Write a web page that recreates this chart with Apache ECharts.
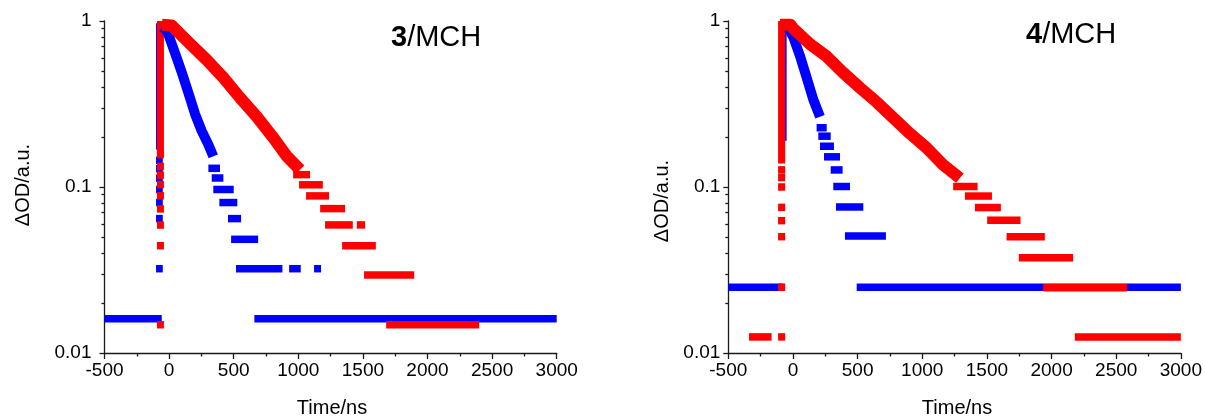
<!DOCTYPE html>
<html>
<head>
<meta charset="utf-8">
<script src="https://cdn.jsdelivr.net/npm/echarts@6/dist/echarts.min.js"></script>
<style>
  html, body { margin: 0; padding: 0; background: #ffffff; }
  #chart { width: 1205px; height: 418px; }
</style>
</head>
<body>
<div id="chart"></div>
<script>
// Transient absorption decays (log ΔOD vs time) for 3/MCH and 4/MCH.
// Digitised signal: low values sit on discrete levels, stored as runs
// [tStart, tEnd, value]; the dense early decay is stored as [t, value] points.

const X_TICK_MIN = -500, X_TICK_MAX = 3000, X_TICK_STEP = 500;
const Y_TICK_VALUES = [0.01, 0.1, 1];
const Y_TICK_LABELS = ['0.01', '0.1', '1'];
const Y_MINOR_VALUES = [0.02, 0.03, 0.04, 0.05, 0.06, 0.07, 0.08, 0.09,
                        0.2, 0.3, 0.4, 0.5, 0.6, 0.7, 0.8, 0.9];
const PANEL_TITLES = ['3', '4'];

// ---- 3/MCH, blue trace ----
const BLUE3_RISE = [[-101, -49, 0.19, 0.92]];
const BLUE3_DECAY = [[-60, 0.92], [-30, 0.9], [-6, 0.83], [46, 0.64], [98, 0.49],
                     [149, 0.37], [201, 0.275], [253, 0.217], [304, 0.18], [342, 0.153]];
const BLUE3_LEVELS = [
  [-101, -49, 0.177], [-101, -49, 0.145], [-101, -49, 0.129], [-101, -49, 0.113],
  [-101, -49, 0.0966], [-101, -49, 0.0806], [-101, -49, 0.0645], [-101, -49, 0.0322],
  [304, 394, 0.1296], [330, 420, 0.1133], [342, 500, 0.0966], [389, 528, 0.0806],
  [456, 557, 0.0645], [480, 689, 0.0484], [518, 877, 0.0322], [929, 1019, 0.0322],
  [1122, 1176, 0.0322], [-500, -57, 0.0161], [660, 3000, 0.0161]
];

// ---- 3/MCH, red trace ----
const RED3_RISE = [[-94, -40, 0.157, 0.95]];
const RED3_DECAY = [[-55, 0.95], [20, 0.94], [162, 0.73], [291, 0.583], [420, 0.456],
                    [549, 0.345], [679, 0.265], [807, 0.198], [911, 0.153], [1014, 0.127]];
const RED3_LEVELS = [
  [-94, -40, 0.162], [-94, -40, 0.133], [-94, -40, 0.118], [-94, -40, 0.1035],
  [-94, -40, 0.0885], [-94, -40, 0.0738], [-94, -40, 0.059], [-94, -40, 0.0443],
  [-94, -40, 0.0148],
  [960, 1091, 0.1187], [1006, 1190, 0.1031], [1060, 1238, 0.0884], [1169, 1362, 0.0741],
  [1207, 1422, 0.0591], [1453, 1517, 0.0591], [1339, 1600, 0.0443], [1509, 1897, 0.0295],
  [1680, 2400, 0.0148]
];

// ---- 4/MCH, blue trace ----
const BLUE4_RISE = [[-105, -49, 0.2, 0.95]];
const BLUE4_DECAY = [[-95, 0.95], [-48, 0.94], [3, 0.8], [54, 0.617], [106, 0.456],
                     [157, 0.337], [209, 0.265]];
const BLUE4_LEVELS = [
  [183, 261, 0.2275], [196, 292, 0.2024], [209, 317, 0.176], [240, 364, 0.152],
  [292, 384, 0.1267], [312, 441, 0.1007], [333, 544, 0.0758], [402, 719, 0.0506],
  [-500, -75, 0.0249], [493, 3000, 0.0249]
];

// ---- 4/MCH, red trace ----
const RED4_RISE = [[-115, -60, 0.146, 0.95]];
const RED4_DECAY = [[-100, 0.95], [-20, 0.95], [3, 0.9], [132, 0.726], [261, 0.612],
                    [389, 0.488], [518, 0.396], [647, 0.325], [776, 0.261], [905, 0.21],
                    [1034, 0.172], [1162, 0.136], [1291, 0.113]];
const RED4_LEVELS = [
  [-115, -60, 0.1268], [-115, -60, 0.114], [-115, -60, 0.1], [-115, -60, 0.0754],
  [-115, -60, 0.0627], [-115, -60, 0.0502], [-115, -60, 0.0249], [-115, -60, 0.0125],
  [-340, -165, 0.0125],
  [1239, 1428, 0.1007], [1330, 1539, 0.0882], [1407, 1608, 0.0752], [1502, 1760, 0.063],
  [1652, 1948, 0.0502], [1747, 2167, 0.0375], [1935, 2585, 0.0247], [2180, 3000, 0.0125]
];

const BLUE = '#0000ff';
const RED = '#ff0000';
const AXIS_COLOR = '#1a1a1a';
const FONT = '"Liberation Sans", Arial, sans-serif';
const MARK_H = 7.5;

const GRIDS = [
  { left: 104.5, top: 21, width: 452.2, height: 332 },
  { left: 728.3, top: 21, width: 452.7, height: 332 }
];
const Y_LABEL_MARGIN = [13, 8];

// Horizontal runs and vertical columns drawn as rectangles in data space.
function renderRun(params, api) {
  const a = api.coord([api.value(0), api.value(3)]);
  const b = api.coord([api.value(1), api.value(2)]);
  const half = MARK_H / 2;
  return {
    type: 'rect',
    shape: { x: a[0], y: a[1] - half, width: b[0] - a[0], height: (b[1] - a[1]) + 2 * half },
    style: { fill: api.visual('color') }
  };
}

function runSeries(rows, color, panel) {
  return {
    type: 'custom',
    xAxisIndex: panel,
    yAxisIndex: panel * 2,
    renderItem: renderRun,
    clip: true,
    itemStyle: { color: color },
    encode: { x: [0, 1], y: [2, 3] },
    data: rows.map(r => r.length === 3 ? [r[0], r[1], r[2], r[2]] : r.slice()),
    silent: true
  };
}

function bandSeries(points, color, width, panel) {
  return {
    type: 'line',
    xAxisIndex: panel,
    yAxisIndex: panel * 2,
    data: points,
    showSymbol: false,
    symbol: 'none',
    clip: true,
    lineStyle: { color: color, width: width, cap: 'butt', join: 'round' },
    silent: true
  };
}

function xAxisFor(panel) {
  return {
    gridIndex: panel,
    type: 'value',
    min: X_TICK_MIN,
    max: X_TICK_MAX,
    interval: X_TICK_STEP,
    axisLine: { show: true, onZero: false, lineStyle: { color: AXIS_COLOR, width: 1.3 } },
    axisTick: { show: true, inside: false, length: 6, lineStyle: { color: AXIS_COLOR, width: 1.3 } },
    minorTick: { show: true, splitNumber: 2, length: 3.5, lineStyle: { color: AXIS_COLOR, width: 1.3 } },
    splitLine: { show: false },
    minorSplitLine: { show: false },
    axisLabel: {
      color: '#000', fontSize: 19, fontFamily: FONT, margin: 8,
      showMinLabel: true, showMaxLabel: true,
      formatter: v => String(v)
    }
  };
}

function yAxesFor(panel) {
  const base = {
    gridIndex: panel,
    type: 'log',
    logBase: 10,
    min: 0.01,
    max: 1,
    position: 'left',
    splitLine: { show: false },
    minorSplitLine: { show: false }
  };
  const major = Object.assign({}, base, {
    axisLine: { show: true, onZero: false, lineStyle: { color: AXIS_COLOR, width: 1.3 } },
    axisTick: { show: true, inside: false, length: 5, customValues: Y_TICK_VALUES,
                lineStyle: { color: AXIS_COLOR, width: 1.3 } },
    axisLabel: {
      show: true, customValues: Y_TICK_VALUES, color: '#000', fontSize: 19, fontFamily: FONT,
      margin: Y_LABEL_MARGIN[panel],
      formatter: function (v) {
        let best = 0;
        Y_TICK_VALUES.forEach((t, i) => {
          if (Math.abs(Math.log10(t) - Math.log10(v)) < Math.abs(Math.log10(Y_TICK_VALUES[best]) - Math.log10(v))) best = i;
        });
        return Y_TICK_LABELS[best];
      }
    }
  });
  const minor = Object.assign({}, base, {
    axisLine: { show: false, onZero: false },
    axisTick: { show: true, inside: false, length: 3, customValues: Y_MINOR_VALUES,
                lineStyle: { color: AXIS_COLOR, width: 1.3 } },
    axisLabel: { show: false }
  });
  return [major, minor];
}

const option = {
  animation: false,
  backgroundColor: '#ffffff',
  grid: GRIDS.map(g => Object.assign({ containLabel: false }, g)),
  xAxis: [xAxisFor(0), xAxisFor(1)],
  yAxis: yAxesFor(0).concat(yAxesFor(1)),
  series: [
    // 3/MCH
    runSeries(BLUE3_RISE, BLUE, 0),
    runSeries(BLUE3_LEVELS, BLUE, 0),
    bandSeries(BLUE3_DECAY, BLUE, 10, 0),
    runSeries(RED3_RISE, RED, 0),
    runSeries(RED3_LEVELS, RED, 0),
    bandSeries(RED3_DECAY, RED, 12, 0),
    // 4/MCH
    runSeries(BLUE4_RISE, BLUE, 1),
    runSeries(BLUE4_LEVELS, BLUE, 1),
    bandSeries(BLUE4_DECAY, BLUE, 10, 1),
    runSeries(RED4_RISE, RED, 1),
    runSeries(RED4_LEVELS, RED, 1),
    bandSeries(RED4_DECAY, RED, 12, 1)
  ],
  graphic: [
    { type: 'text', x: 23, y: 185, rotation: Math.PI / 2,
      style: { text: 'ΔOD/a.u.', font: '20px ' + FONT, fill: '#000', align: 'center', verticalAlign: 'middle' } },
    { type: 'text', x: 662, y: 201, rotation: Math.PI / 2,
      style: { text: 'ΔOD/a.u.', font: '20px ' + FONT, fill: '#000', align: 'center', verticalAlign: 'middle' } },
    { type: 'text', x: 332, y: 408,
      style: { text: 'Time/ns', font: '20px ' + FONT, fill: '#000', align: 'center', verticalAlign: 'middle' } },
    { type: 'text', x: 957, y: 408,
      style: { text: 'Time/ns', font: '20px ' + FONT, fill: '#000', align: 'center', verticalAlign: 'middle' } },
    { type: 'text', x: 391, y: 38,
      style: { text: '{b|' + PANEL_TITLES[0] + '}/MCH', font: '29px ' + FONT, fill: '#000',
               verticalAlign: 'middle',
               rich: { b: { fontWeight: 'bold', fontSize: 29, fontFamily: FONT, fill: '#000' } } } },
    { type: 'text', x: 1026, y: 35,
      style: { text: '{b|' + PANEL_TITLES[1] + '}/MCH', font: '29px ' + FONT, fill: '#000',
               verticalAlign: 'middle',
               rich: { b: { fontWeight: 'bold', fontSize: 29, fontFamily: FONT, fill: '#000' } } } }
  ]
};

const chart = echarts.init(document.getElementById('chart'), null, { renderer: 'canvas' });
chart.setOption(option);
</script>
</body>
</html>
